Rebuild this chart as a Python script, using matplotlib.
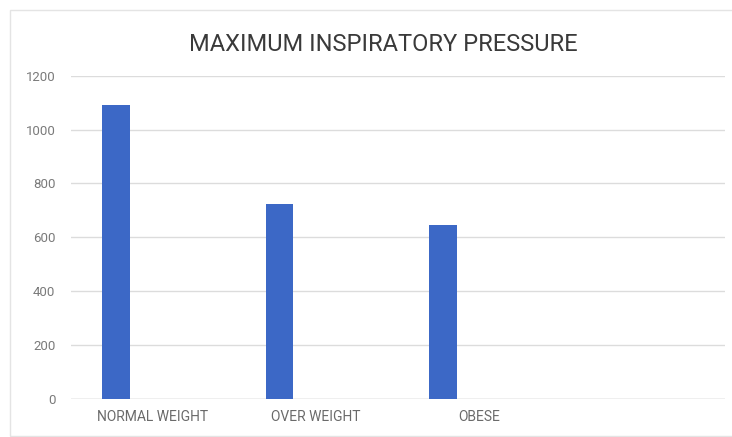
import matplotlib
matplotlib.use("Agg")
import matplotlib.pyplot as plt
from matplotlib.patches import Rectangle

categories = ["NORMAL WEIGHT", "OVER WEIGHT", "OBESE", ""]
values = [1090, 725, 647]
yticks = [0, 200, 400, 600, 800, 1000, 1200]
title = "MAXIMUM INSPIRATORY PRESSURE"

plt.rcParams['font.family'] = ['Roboto', 'DejaVu Sans']

fig = plt.figure(figsize=(7.32, 4.37), dpi=100)
fig.patch.set_facecolor("white")
ax = fig.add_axes([0.0966, 0.087, 0.8934, 0.7398])

n = len(categories)
xs = list(range(n))
offset = -0.223
ax.bar([x + offset for x in xs[:len(values)]], values, width=0.17,
       color="#3c68c6", zorder=3)

ax.set_xlim(-0.5, n - 0.5)
ax.set_ylim(0, 1200)
ax.set_yticks(yticks)
ax.set_yticklabels([str(t) for t in yticks], color="#7a7a7a", fontsize=9.5)
ax.set_xticks(xs)
ax.set_xticklabels(categories, color="#6a6a6a", fontsize=10)
ax.tick_params(axis="both", length=0)
ax.tick_params(axis="y", pad=11)
ax.tick_params(axis="x", pad=8)
ax.grid(axis="y", color="#dcdcdc", linewidth=1.0, zorder=0)
for s in ax.spines.values():
    s.set_visible(False)
ax.axhline(0, color="#cfcfcf", linewidth=1.0, zorder=2)

fig.text(0.5237, 0.898, title, ha="center", va="center", fontsize=17,
         color="#3a3a3a")

fig.add_artist(Rectangle((10 / 732, 1 / 437), 730 / 732, 426 / 437,
                         transform=fig.transFigure, fill=False,
                         edgecolor="#e4e4e4", linewidth=1.0))

fig.savefig("out.png", dpi=100)
